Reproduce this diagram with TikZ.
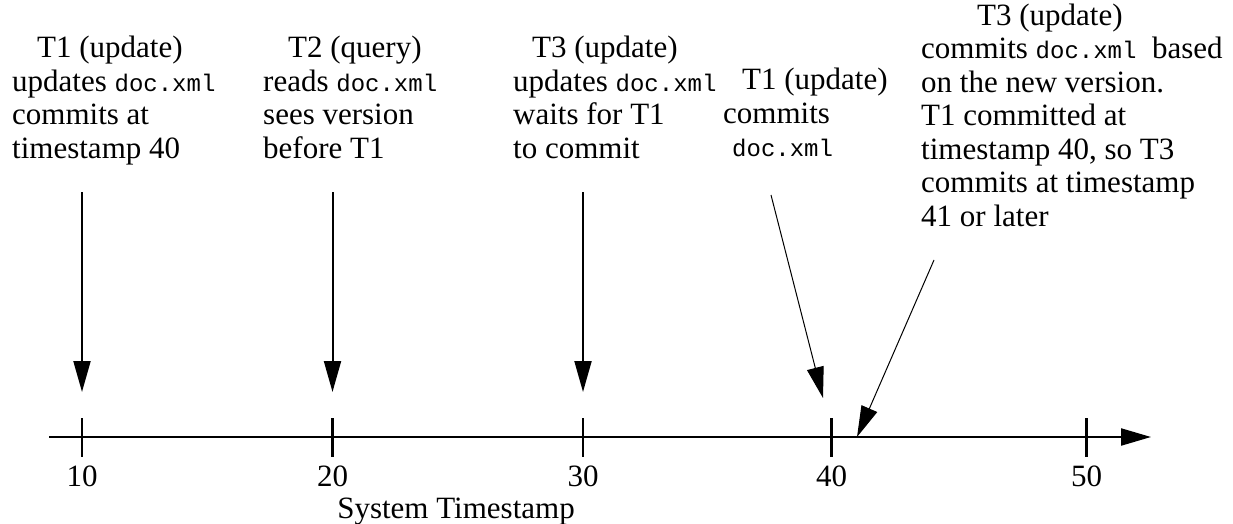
\documentclass[tikz,border=0pt]{standalone}
\usepackage{fontspec}
\setmainfont{Liberation Serif}
\setmonofont{Liberation Mono}
\usetikzlibrary{arrows.meta}
\begin{document}
\begin{tikzpicture}[x=1pt,y=-1pt,
  lbl/.style={inner sep=0pt, anchor=base west, align=left, font=\fontsize{31}{33.5}\selectfont},
  num/.style={inner sep=0pt, anchor=base, font=\fontsize{31}{35}\selectfont},
  tickmark/.style={line width=2.2pt},
  varrow/.style={line width=2pt, -{Triangle[length=31pt,width=17pt]}},
  sarrow/.style={line width=1pt, -{Triangle[length=31pt,width=17pt]}},
  axisline/.style={line width=2.2pt, -{Triangle[length=30pt,width=17pt]}}
]
\def\xml{{\fontsize{24}{33.5}\selectfont\ttfamily doc.xml}}
\useasboundingbox (0,0) rectangle (1233,524);
% text blocks (anchor = baseline of last line)
\node[lbl] (b1) at (12,158) {\hspace{25pt}T1 (update)\\updates \xml\\commits at\\timestamp 40};
\node[lbl] (b2) at (263,158) {\hspace{25pt}T2 (query)\\reads \xml\\sees version\\before T1};
\node[lbl] (b3) at (513,158) {\hspace{19pt}T3 (update)\\updates \xml\\waits for T1\\to commit};
\node[lbl] (b4) at (723,157) {\hspace{19pt}T1 (update)\\commits\\\hspace{9pt}\xml};
\node[lbl] (b5) at (921,226) {\hspace{56pt}T3 (update)\\commits \xml\ \ based\\on the new version.\\T1 committed at\\timestamp 40, so T3\\commits at timestamp\\41 or later};
% axis
\coordinate (ax0) at (49,437);
\coordinate (ax1) at (1151,437);
\draw[axisline] (ax0) -- (ax1);
\foreach \v/\x in {10/82,20/332.5,30/583,40/831.5,50/1086.5}{
  \coordinate (t\v) at (\x,437);
  \draw[tickmark] (\x,418) -- (\x,457);
  \node[num] (n\v) at (\x,486) {\v};
}
\node[num] (axlabel) at (456,518) {System Timestamp};
% arrows
\coordinate (s1) at (82,192);  \coordinate (e1) at (82,392);
\coordinate (s2) at (332.5,192); \coordinate (e2) at (332.5,392);
\coordinate (s3) at (583,192); \coordinate (e3) at (583,392);
\coordinate (s4) at (771,195); \coordinate (e4) at (823,398);
\coordinate (s5) at (934,260); \coordinate (e5) at (857,437);
\draw[varrow] (s1) -- (e1);
\draw[varrow] (s2) -- (e2);
\draw[varrow] (s3) -- (e3);
\draw[sarrow] (s4) -- (e4);
\draw[sarrow] (s5) -- (e5);
\end{tikzpicture}
\end{document}
